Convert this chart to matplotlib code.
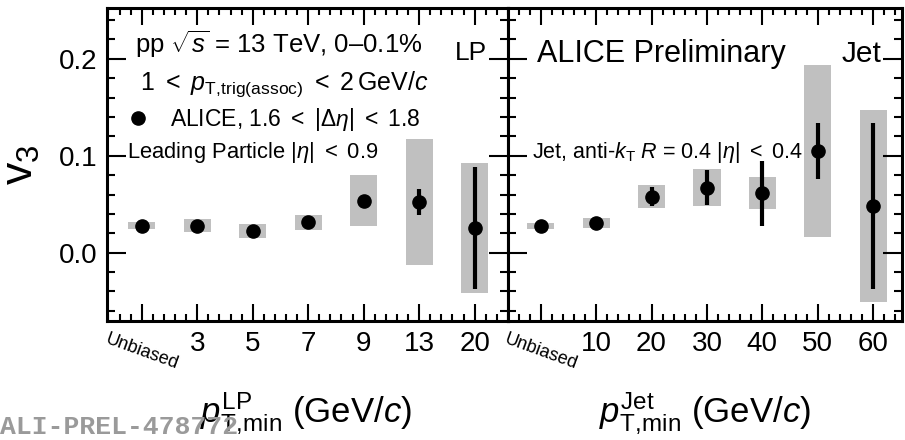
import matplotlib
matplotlib.use("Agg")
import matplotlib.pyplot as plt
from matplotlib.lines import Line2D
from matplotlib.ticker import MultipleLocator, FormatStrFormatter
import numpy as np

plt.rcParams['font.family'] = ['Liberation Sans', 'DejaVu Sans']
plt.rcParams['mathtext.fontset'] = 'custom'
plt.rcParams['mathtext.rm'] = 'Liberation Sans'
plt.rcParams['mathtext.it'] = 'Liberation Sans:italic'
plt.rcParams['mathtext.bf'] = 'Liberation Sans:bold'

# leading particle selection
lp_labels = ["Unbiased", "3", "5", "7", "9", "13", "20"]
lp_v3 = [0.0278, 0.0278, 0.0224, 0.0313, 0.0536, 0.0521, 0.0254]
lp_stat = [0.0015, 0.0015, 0.0015, 0.0015, 0.0025, 0.0132, 0.0632]
lp_sys = [0.0035, 0.0066, 0.0072, 0.0078, 0.0263, 0.0648, 0.0670]

# jet selection
jet_labels = ["Unbiased", "10", "20", "30", "40", "50", "60"]
jet_v3 = [0.0278, 0.0303, 0.0577, 0.0670, 0.0612, 0.1050, 0.0478]
jet_stat = [0.0015, 0.0015, 0.0100, 0.0180, 0.0332, 0.0287, 0.0856]
jet_sys = [0.0031, 0.0052, 0.0117, 0.0190, 0.0165, 0.0888, 0.0990]

fig = plt.figure(figsize=(9.05, 4.4), dpi=100)
ax_lp = fig.add_axes([0.1182, 0.2705, 0.4431, 0.7114])
ax_jet = fig.add_axes([0.5613, 0.2705, 0.4354, 0.7114])


def draw_panel(ax, labels, v3, stat, sys):
    x = np.arange(len(labels))
    v3 = np.array(v3)
    sys = np.array(sys)
    ax.bar(x, 2 * sys, bottom=v3 - sys, width=0.49, color='#c0c0c0', lw=0, zorder=1)
    ax.errorbar(x, v3, yerr=stat, fmt='o', color='black', ms=9.5,
                elinewidth=3, capsize=0, zorder=3)
    ax.set_ylim(-0.0705, 0.2525)
    ax.xaxis.set_minor_locator(MultipleLocator(0.2))
    ax.yaxis.set_major_locator(MultipleLocator(0.1))
    ax.yaxis.set_minor_locator(MultipleLocator(0.02))
    ax.yaxis.set_major_formatter(FormatStrFormatter('%.1f'))
    ax.tick_params(which='both', direction='in', top=True, right=True, width=1.5)
    ax.tick_params(axis='y', which='major', length=14, labelsize=20, pad=7)
    ax.tick_params(axis='y', which='minor', length=6)
    ax.tick_params(axis='x', which='major', length=12, labelsize=20, pad=7)
    ax.tick_params(axis='x', which='minor', length=5)
    ax.set_xticks(x)
    lbls = ax.set_xticklabels(labels)
    # the unbiased bin gets a small slanted label
    lbls[0].set_rotation(-20)
    lbls[0].set_fontsize(13)
    for s in ax.spines.values():
        s.set_linewidth(2.2)


draw_panel(ax_lp, lp_labels, lp_v3, lp_stat, lp_sys)
draw_panel(ax_jet, jet_labels, jet_v3, jet_stat, jet_sys)
ax_lp.set_xlim(-0.626, 6.6)
ax_jet.set_xlim(-0.59, 6.52)
ax_jet.tick_params(axis='y', labelleft=False)

ax_lp.set_ylabel("v$_3$", fontsize=32, labelpad=12)

# left panel annotations
ax_lp.text(0.07, 0.856, r"pp $\sqrt{s}$ = 13 TeV, 0–0.1%", transform=ax_lp.transAxes, fontsize=18.5)
ax_lp.text(0.948, 0.834, "LP", transform=ax_lp.transAxes, fontsize=19, ha='right')
ax_lp.text(0.082, 0.738, r"$1\ <\ p_{\mathrm{T,\!trig(assoc)}}\ <\ 2\,\mathrm{GeV}/c$",
           transform=ax_lp.transAxes, fontsize=18)
ax_lp.text(0.05, 0.521, r"Leading Particle $|\eta|\ <\ 0.9$", transform=ax_lp.transAxes, fontsize=15.8)
handle = Line2D([], [], ls='none', marker='o', color='black', ms=9.5)
ax_lp.legend([handle], [r"ALICE, $1.6\ <\ |\Delta\eta|\ <\ 1.8$"], loc='center left',
             bbox_to_anchor=(0.025, 0.645), frameon=False, fontsize=16.5,
             handlelength=1.0, handletextpad=0.9, borderaxespad=0)

# right panel annotations
ax_jet.text(0.0736, 0.827, "ALICE Preliminary", transform=ax_jet.transAxes, fontsize=22)
ax_jet.text(0.949, 0.827, "Jet", transform=ax_jet.transAxes, fontsize=21.5, ha='right')
ax_jet.text(0.061, 0.521, r"Jet, anti-$k_{\mathrm{T}}$ $R$ = 0.4 $|\eta|\ <\ 0.4$",
            transform=ax_jet.transAxes, fontsize=15.5)

fig.text(306 / 905, 1 - 422 / 440, r"$p_{\mathrm{T,\!min}}^{\mathrm{LP}}$ (GeV/$c$)",
         ha='center', va='baseline', fontsize=25)
fig.text(705 / 905, 1 - 422 / 440, r"$p_{\mathrm{T,\!min}}^{\mathrm{Jet}}$ (GeV/$c$)",
         ha='center', va='baseline', fontsize=25)
fig.text(0.0, 0.002, "ALI-PREL-478772", family='Liberation Mono', weight='bold',
         color='#9a9a9a', fontsize=19, va='bottom', ha='left')

fig.savefig("out.png", dpi=100)
